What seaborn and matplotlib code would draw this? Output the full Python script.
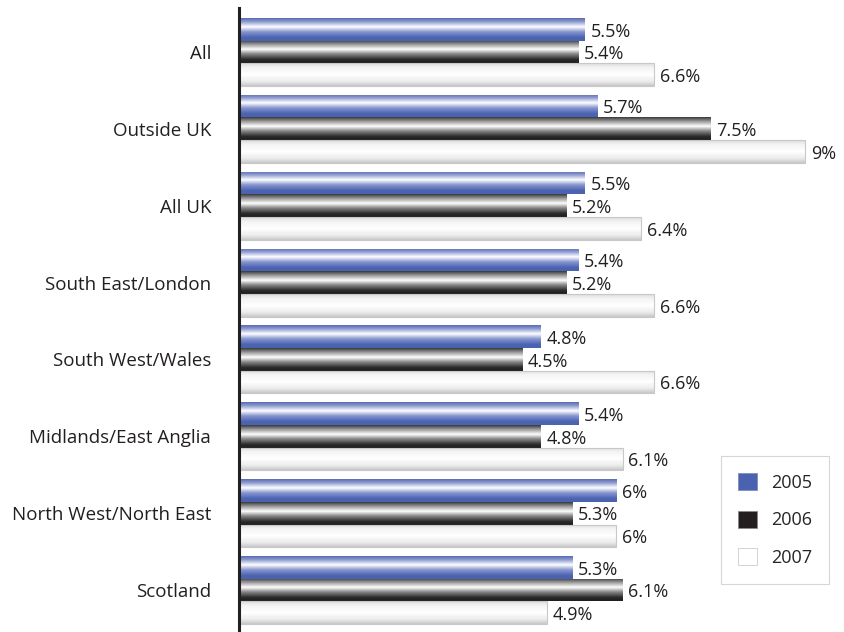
import numpy as np
import pandas as pd
import matplotlib
matplotlib.use("Agg")
import matplotlib.pyplot as plt
import seaborn as sns
from matplotlib.patches import Patch
from matplotlib.colors import to_rgb

categories = ["All", "Outside UK", "All UK", "South East/London", "South West/Wales",
              "Midlands/East Anglia", "North West/North East", "Scotland"]
years = ["2005", "2006", "2007"]
v2005 = [5.5, 5.7, 5.5, 5.4, 4.8, 5.4, 6.0, 5.3]
v2006 = [5.4, 7.5, 5.2, 5.2, 4.5, 4.8, 5.3, 6.1]
v2007 = [6.6, 9.0, 6.4, 6.6, 6.6, 6.1, 6.0, 4.9]

df = pd.DataFrame({
    "region": categories * 3,
    "year": [years[0]] * 8 + [years[1]] * 8 + [years[2]] * 8,
    "value": v2005 + v2006 + v2007,
})

sns.set_theme(style="white")
plt.rcParams["font.family"] = ["Open Sans", "DejaVu Sans"]

fig = plt.figure(figsize=(8.44, 6.32), dpi=100)
ax = fig.add_axes([239 / 844, 0, 1 - 239 / 844, 1 - 8 / 632])

base = {"2005": "#4a62b0", "2006": "#231f20", "2007": "#ffffff"}
sns.barplot(data=df, y="region", x="value", hue="year", order=categories,
            hue_order=years, palette=base, width=0.885, orient="h",
            ax=ax, legend=False, saturation=1, linewidth=0)

def grad(stops, n=64):
    pos = np.linspace(0, 1, n)
    ps = [s[0] for s in stops]
    cols = np.array([to_rgb(s[1]) for s in stops])
    out = np.zeros((n, 1, 3))
    for c in range(3):
        out[:, 0, c] = np.interp(pos, ps, cols[:, c])
    return out

grads = {
    "2005": grad([(0, "#5b6cb2"), (0.15, "#8c98d0"), (0.38, "#ffffff"), (0.6, "#8796cf"), (0.85, "#4b63b1"), (1, "#4a62b0")]),
    "2006": grad([(0, "#3a3a3a"), (0.15, "#8a8a8a"), (0.4, "#ffffff"), (0.6, "#8a8a8a"), (0.85, "#2a2a2a"), (1, "#1e1e1e")]),
    "2007": grad([(0, "#dcdcdc"), (0.2, "#f4f4f4"), (0.5, "#ffffff"), (0.8, "#ececec"), (1, "#c8c8c8")]),
}

patches = [p for p in ax.patches]
for i, p in enumerate(patches):
    yr = years[i // len(categories)]
    x0 = p.get_x()
    w = p.get_width()
    y0 = p.get_y()
    h = p.get_height()
    im = ax.imshow(grads[yr], extent=(x0, x0 + w, y0 + h, y0), origin="upper",
                   aspect="auto", zorder=p.get_zorder() + 0.1, interpolation="bilinear")
    im.set_clip_path(p)
    if yr == "2007":
        ax.add_patch(plt.Rectangle((x0, y0), w, h, fill=False, edgecolor="#c8c8c8",
                                   linewidth=0.8, zorder=p.get_zorder() + 0.2))
    lab = f"{w:g}%"
    ax.text(x0 + w + 0.09, y0 + h / 2 + 0.03, lab, va="center", ha="left",
            fontsize=13, color="#231f20", zorder=5)

ax.set_xlim(0, 9.62)
ax.set_ylim(7.546, -0.572)
ax.set_xlabel("")
ax.set_ylabel("")
ax.set_xticks([])
ax.tick_params(axis="y", length=0, pad=20, labelsize=13.5, labelcolor="#231f20")
for s in ["top", "right", "bottom"]:
    ax.spines[s].set_visible(False)
ax.spines["left"].set_linewidth(2.2)
ax.spines["left"].set_color("#231f20")

handles = [Patch(facecolor="#4a62b0", edgecolor="#7f8cc0", linewidth=0.6),
           Patch(facecolor="#231f20", edgecolor="#888888", linewidth=0.6),
           Patch(facecolor="#ffffff", edgecolor="#cccccc", linewidth=0.6)]
leg = fig.legend(handles, years, loc="lower left", bbox_to_anchor=(721 / 844, 48 / 632),
                 bbox_transform=fig.transFigure, fontsize=13, frameon=True, fancybox=False,
                 handlelength=1.07, handleheight=1.07, labelspacing=1.05, handletextpad=0.75,
                 borderpad=0.95, borderaxespad=0)
leg.get_frame().set_edgecolor("#cccccc")
leg.get_frame().set_linewidth(0.8)

fig.savefig("out.png", dpi=100)
